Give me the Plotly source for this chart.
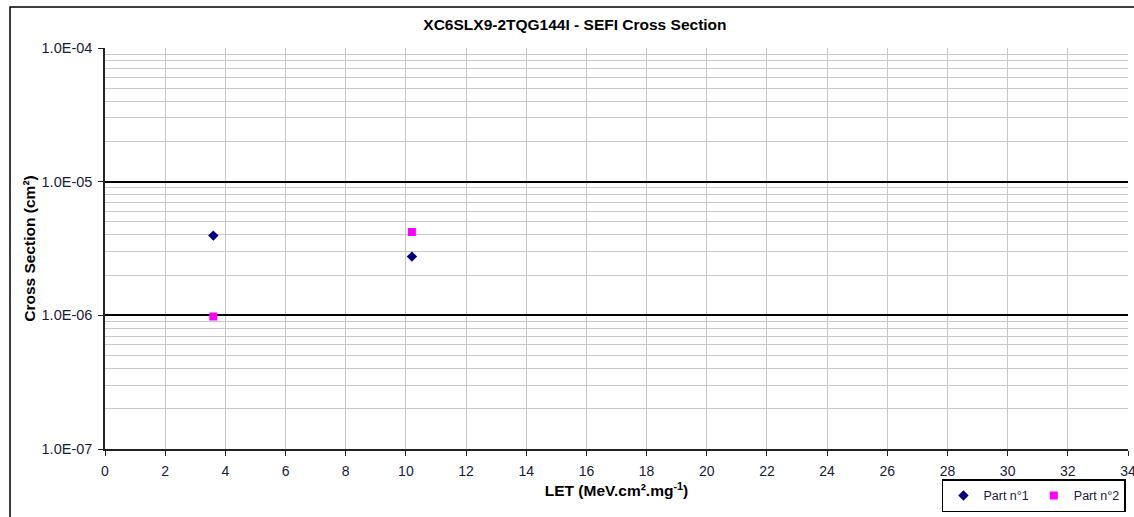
import plotly.graph_objects as go

# Data
let_part1 = [3.6, 10.2]
xs_part1 = [3.95e-6, 2.75e-6]
let_part2 = [3.6, 10.2]
xs_part2 = [0.98e-6, 4.2e-6]

y_tickvals = [1e-7, 1e-6, 1e-5, 1e-4]
y_ticktext = ["1.0E-07", "1.0E-06", "1.0E-05", "1.0E-04"]
x_tickvals = list(range(0, 35, 2))
minor_vals = [k * 10.0 ** e for e in (-7, -6, -5) for k in range(2, 10)]

FONT = "Liberation Sans, Arial, sans-serif"
TXT = "#1a1a3a"

fig = go.Figure()
fig.add_trace(go.Scatter(
    x=let_part1, y=xs_part1, mode="markers", name="Part n°1",
    marker=dict(symbol="diamond", size=8, color="#000080"),
))
fig.add_trace(go.Scatter(
    x=let_part2, y=xs_part2, mode="markers", name="Part n°2",
    marker=dict(symbol="square", size=8, color="#FF00FF"),
))

fig.update_layout(
    width=1134, height=517,
    margin=dict(l=105, r=6, t=48, b=68, autoexpand=False),
    paper_bgcolor="white", plot_bgcolor="white",
    font=dict(family=FONT, size=14, color=TXT),
    title=dict(text="<b>XC6SLX9-2TQG144I - SEFI Cross Section</b>",
               x=0.507, xanchor="center", y=0.952, yanchor="middle",
               font=dict(size=15.5, family=FONT, color="#000")),
    showlegend=True,
    legend=dict(orientation="h", x=0.998, xanchor="right", y=-0.158, yanchor="bottom",
                bordercolor="#000", borderwidth=1.5, bgcolor="white",
                font=dict(size=12.5, family=FONT, color=TXT),
                itemwidth=30, tracegroupgap=0),
    xaxis=dict(
        range=[0, 34], tickvals=x_tickvals, showgrid=True, gridcolor="#c8c8c8",
        gridwidth=1, zeroline=False, showline=True, linecolor="#222", linewidth=1.5,
        ticks="outside", ticklen=5, tickcolor="#222", tickfont=dict(size=14),
        ticklabelstandoff=3, ticklabeloverflow="allow", automargin=False,
        title=dict(text="<b>LET (MeV.cm².mg<sup>-1</sup>)</b>", font=dict(size=15.5, color="#000"), standoff=8),
    ),
    yaxis=dict(
        type="log", range=[-7, -4], tickvals=y_tickvals, ticktext=y_ticktext,
        showgrid=True, gridcolor="#000", gridwidth=1.5, zeroline=False,
        showline=True, linecolor="#222", linewidth=1.5,
        ticks="outside", ticklen=5, tickcolor="#222", tickfont=dict(size=14.5),
        ticklabelstandoff=3, automargin=False,
        minor=dict(tickvals=minor_vals, showgrid=True, gridcolor="#c8c8c8", gridwidth=1, ticks=""),
        title=dict(text="<b>Cross Section (cm²)</b>", font=dict(size=15.5, color="#000"), standoff=2),
    ),
)

# outer chart frame
fig.add_shape(type="rect", xref="paper", yref="paper",
              x0=(10 - 105) / 1023, x1=1.2, y0=-0.3, y1=1 + (48 - 7) / 401,
              line=dict(color="#000", width=1.5), fillcolor="rgba(0,0,0,0)", layer="below")

fig.write_html("out.html")
